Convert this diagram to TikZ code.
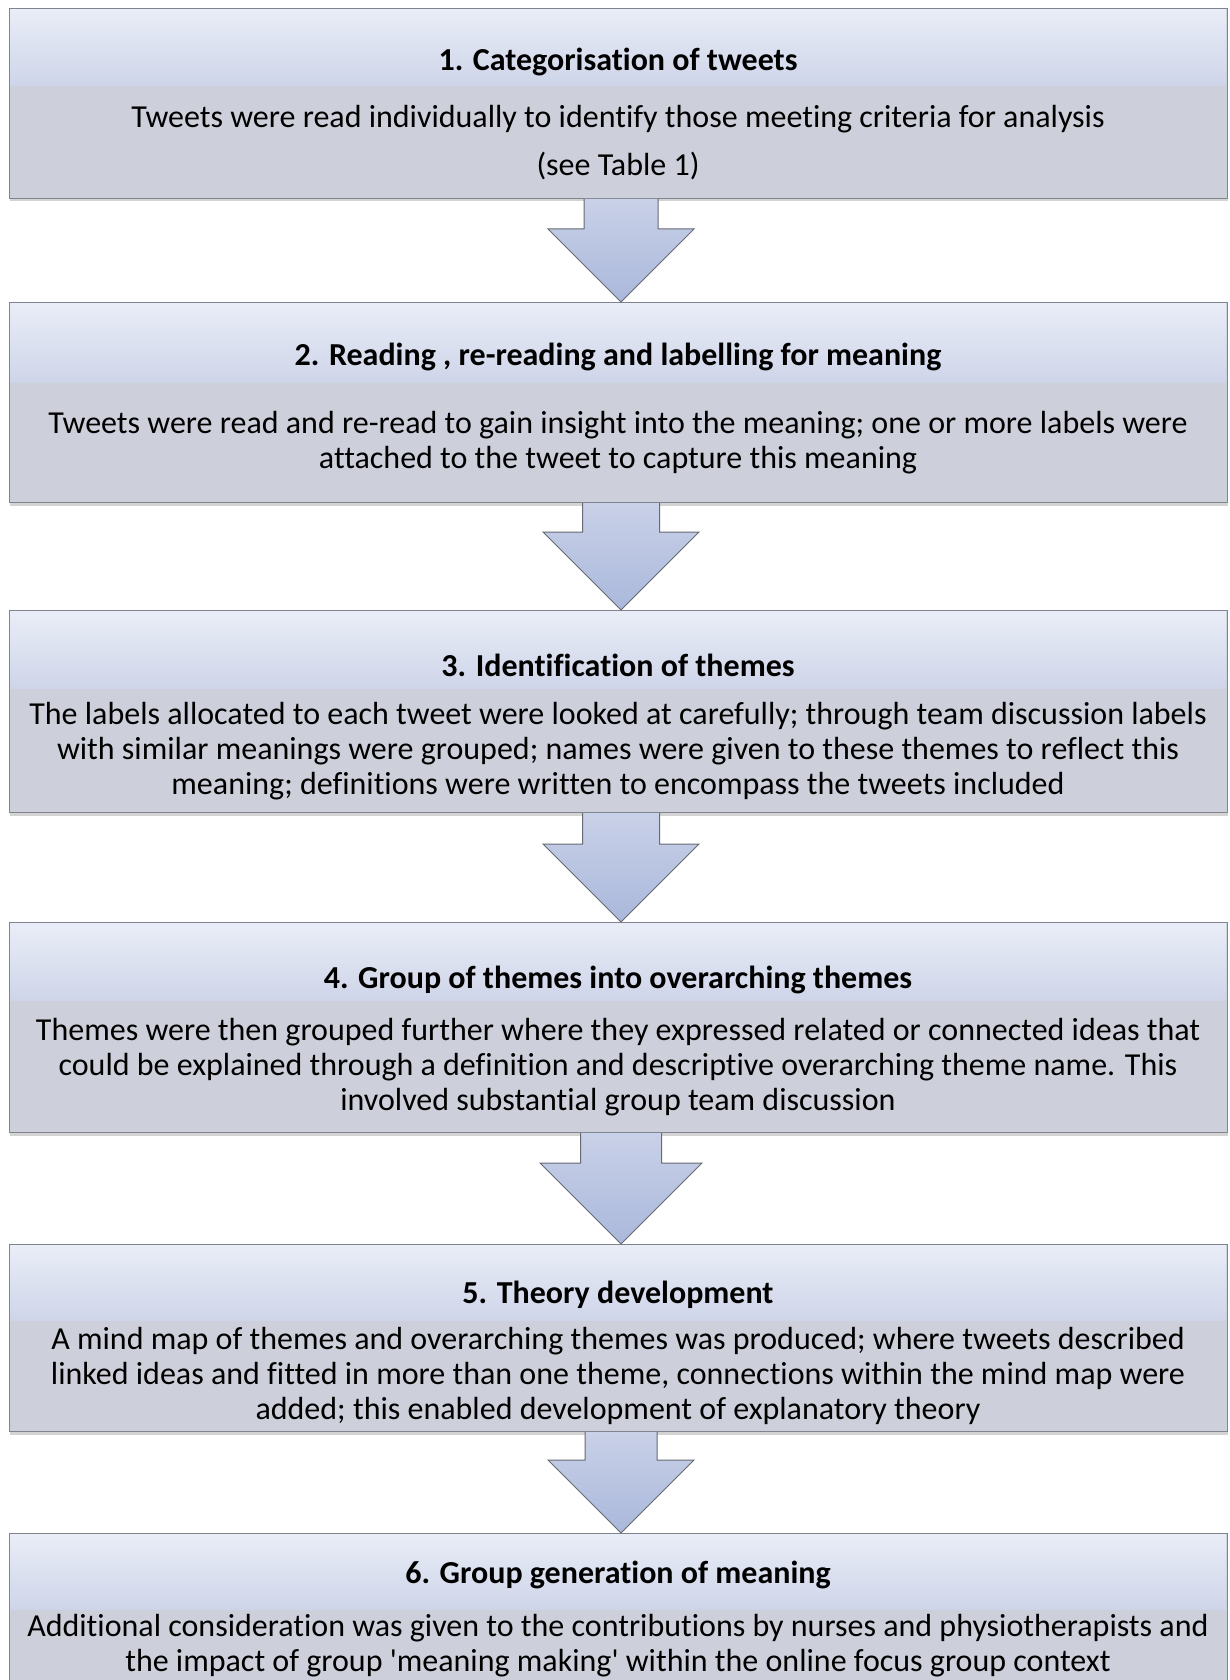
\documentclass[tikz,border=0pt]{standalone}
\usepackage{fontspec}
\setmainfont{Carlito}[Ligatures=NoCommon]
\usetikzlibrary{positioning,calc,shadows}

\definecolor{headtop}{RGB}{233,237,247}
\definecolor{headbottom}{RGB}{207,213,233}
\definecolor{bodygray}{RGB}{205,208,218}
\definecolor{edgegray}{RGB}{128,132,142}
\definecolor{arrowtop}{RGB}{201,209,232}
\definecolor{arrowbottom}{RGB}{170,184,219}

\tikzset{
    stepbox/.style={draw=edgegray, line width=1pt, fill=bodygray, minimum width=1218pt, inner sep=0pt, anchor=north,
        drop shadow={shadow xshift=1pt, shadow yshift=-3pt, opacity=0.35}},
    headband/.style={top color=headtop, bottom color=headbottom, minimum width=1216pt, inner sep=0pt, anchor=north},
    steptitle/.style={font=\fontsize{32}{35}\selectfont\bfseries},
    steptext/.style={font=\fontsize{32}{35}\selectfont, align=center},
    blockarrow/.style={draw=edgegray!80!black, line width=1pt, top color=arrowtop, bottom color=arrowbottom, line join=miter},
}

% arrow from box #1 down to box #2, shaft half width #3, head half width #4
\newcommand{\flowarrow}[4]{%
    \path[blockarrow] let \p1=(#1.south), \p2=(#2.north) in
        ({(621-#3)*1pt},\y1) -- ({(621-#3)*1pt},{\y2+#4*1pt}) -- ({(621-#4)*1pt},{\y2+#4*1pt})
        -- (621pt,\y2) -- ({(621+#4)*1pt},{\y2+#4*1pt}) -- ({(621+#3)*1pt},{\y2+#4*1pt}) -- ({(621+#3)*1pt},\y1);
}

\begin{document}
\begin{tikzpicture}[x=1pt, y=-1pt]
    \useasboundingbox (0,0) rectangle (1229,1680);

    % Step 1
    \node[stepbox, minimum height=190pt] (b1) at (618,8) {};
    \node[headband, minimum height=76pt] (b1-head) at ([yshift=-1pt]b1.north) {};
    \node[steptitle] (b1-title) at (618,62) {1. Categorisation of tweets};
    \node[steptext] (b1-text) at ($(b1-head.south)!0.5!(b1.south)$)
        {Tweets were read individually to identify those meeting criteria for analysis\\[13pt](see Table 1)};

    % Step 2
    \node[stepbox, minimum height=200pt] (b2) at (618,302) {};
    \node[headband, minimum height=79pt] (b2-head) at ([yshift=-1pt]b2.north) {};
    \node[steptitle] (b2-title) at (618,357) {2. Reading , re-reading and labelling for meaning};
    \node[steptext] (b2-text) at ($(b2-head.south)!0.5!(b2.south)$)
        {Tweets were read and re-read to gain insight into the meaning; one or more labels were\\
         attached to the tweet to capture this meaning};

    % Step 3
    \node[stepbox, minimum height=202pt] (b3) at (618,610) {};
    \node[headband, minimum height=77pt] (b3-head) at ([yshift=-1pt]b3.north) {};
    \node[steptitle] (b3-title) at (618,665) {3. Identification of themes};
    \node[steptext] (b3-text) at ($(b3-head.south)!0.5!(b3.south)$)
        {The labels allocated to each tweet were looked at carefully; through team discussion labels\\
         with similar meanings were grouped; names were given to these themes to reflect this\\
         meaning; definitions were written to encompass the tweets included};

    % Step 4
    \node[stepbox, minimum height=210pt] (b4) at (618,922) {};
    \node[headband, minimum height=77pt] (b4-head) at ([yshift=-1pt]b4.north) {};
    \node[steptitle] (b4-title) at (618,980) {4. Group of themes into overarching themes};
    \node[steptext] (b4-text) at ($(b4-head.south)!0.5!(b4.south)$)
        {Themes were then grouped further where they expressed related or connected ideas that\\
         could be explained through a definition and descriptive overarching theme name. This\\
         involved substantial group team discussion};

    % Step 5
    \node[stepbox, minimum height=187pt] (b5) at (618,1244) {};
    \node[headband, minimum height=75pt] (b5-head) at ([yshift=-1pt]b5.north) {};
    \node[steptitle] (b5-title) at (618,1295) {5. Theory development};
    \node[steptext] (b5-text) at ($(b5-head.south)!0.5!(b5.south)$)
        {A mind map of themes and overarching themes was produced; where tweets described\\
         linked ideas and fitted in more than one theme, connections within the mind map were\\
         added; this enabled development of explanatory theory};

    % Step 6
    \node[stepbox, minimum height=148pt] (b6) at (618,1533) {};
    \node[headband, minimum height=75pt] (b6-head) at ([yshift=-1pt]b6.north) {};
    \node[steptitle] (b6-title) at (618,1575) {6. Group generation of meaning};
    \node[steptext] (b6-text) at ($(b6-head.south)!0.5!(b6.south)$)
        {Additional consideration was given to the contributions by nurses and physiotherapists and\\
         the impact of group \textquotesingle meaning making\textquotesingle{} within the online focus group context};

    % Arrows
    \flowarrow{b1}{b2}{37}{73}
    \flowarrow{b2}{b3}{38.5}{78}
    \flowarrow{b3}{b4}{38.5}{78}
    \flowarrow{b4}{b5}{40.5}{81}
    \flowarrow{b5}{b6}{36}{73}
\end{tikzpicture}
\end{document}
